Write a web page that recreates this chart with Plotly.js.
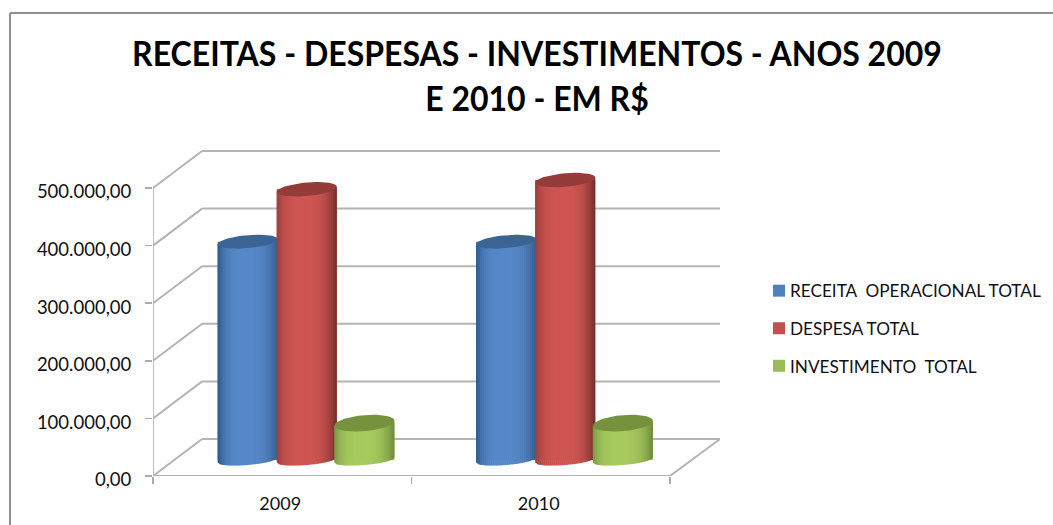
<!DOCTYPE html>
<html><head><meta charset="utf-8">
<script src="https://cdn.plot.ly/plotly-3.0.1.min.js"></script>
<style>html,body{margin:0;padding:0;background:#fff;overflow:hidden}</style>
</head><body><div id="chart" style="width:1053px;height:525px"></div>
<script>
const categories = ["2009", "2010"];
const seriesNames = ["RECEITA\u00a0 OPERACIONAL TOTAL", "DESPESA TOTAL", "INVESTIMENTO\u00a0 TOTAL"];
const receita = [379000, 379000];
const despesa = [470000, 486000];
const investimento = [64000, 64000];
const yTicks = [0, 100000, 200000, 300000, 400000, 500000];

const seriesValues = [receita, despesa, investimento];
const legendColors = ["#4f81bd", "#c0504d", "#9bbb59"];
const capColors = ["#3b6494", "#953b39", "#76923c"];
const shadeLeft = [[45, 85, 135], [150, 62, 60], [122, 150, 66]];
const shadeMid = [[86, 136, 200], [206, 85, 82], [167, 202, 94]];
const shadeRight = [[52, 92, 142], [112, 46, 44], [108, 135, 58]];

// plot box in pixels and conversion to data units
const M = {l: 153, r: 333, t: 150, b: 49};
const unitX = 1 / 258, unitY = 100000 / 57.6;
const xRange = [-0.5, 1.5 + 50 * unitX];
const yRange = [0, (525 - M.t - M.b) * unitY];
const depthX = 49 * unitX, depthY = 37 * unitY;
const offsets = [-34.5 * unitX, 24.5 * unitX, 82 * unitX];
const halfW = 30 * unitX, floorY = 16 * unitY;
const capBs = [6.5 * unitY, 6.8 * unitY, 8 * unitY];
const footB = 5 * unitY, shear = 2.5 * unitY;
const STRIPS = 30;

const traces = [];
seriesValues.forEach((vals, s) => {
  traces.push({
    type: "bar", name: seriesNames[s], x: categories, y: vals,
    base: [floorY, floorY], width: 2 * halfW, offset: offsets[s] - halfW,
    marker: {color: legendColors[s]}, legendgroup: "g" + s, showlegend: true,
    hovertemplate: "%{x}: %{customdata:,.2f}<extra>" + seriesNames[s] + "</extra>", customdata: vals
  });
});

function mix(a, b, t) { return a.map((v, i) => Math.round(v + (b[i] - v) * t)); }
function shade(s, u) {
  const p = -0.1;
  const edge = u < p ? shadeLeft[s] : shadeRight[s];
  const d = u < p ? (p - u) / (1 + p) : (u - p) / (1 - p);
  const c = mix(shadeMid[s], edge, Math.pow(d, 3.2));
  return "rgb(" + c.join(",") + ")";
}
const foot = u => floorY - footB * Math.sqrt(Math.max(0, 1 - u * u)) + shear * u;

seriesValues.forEach((vals, s) => {
  for (let k = 0; k < STRIPS; k++) {
    const u0 = -1 + 2 * k / STRIPS, u1 = Math.min(1, -1 + 2 * (k + 1.3) / STRIPS);
    const xs = [], ys = [];
    vals.forEach((v, c) => {
      const cx = c + offsets[s];
      xs.push(cx + u0 * halfW, cx + u1 * halfW, cx + u1 * halfW, cx + u0 * halfW, cx + u0 * halfW, null);
      ys.push(foot(u0), foot(u1), v + floorY + shear * u1, v + floorY + shear * u0, foot(u0), null);
    });
    traces.push({type: "scatter", mode: "lines", xaxis: "x2", x: xs, y: ys, fill: "toself",
      fillcolor: shade(s, (u0 + u1) / 2), line: {width: 0}, showlegend: false, hoverinfo: "skip"});
  }
  const cxs = [], cys = [];
  vals.forEach((v, c) => {
    const cx = c + offsets[s];
    for (let i = 0; i <= 60; i++) {
      const th = i / 60 * 2 * Math.PI;
      cxs.push(cx + halfW * Math.cos(th));
      cys.push(v + floorY + capBs[s] * Math.sin(th) + shear * Math.cos(th));
    }
    cxs.push(null); cys.push(null);
  });
  traces.push({type: "scatter", mode: "lines", xaxis: "x2", x: cxs, y: cys, fill: "toself",
    fillcolor: capColors[s], line: {width: 0}, showlegend: false, hoverinfo: "skip"});
});

const wall = "#b4b4b4";
const seg = (x0, y0, x1, y1, color, w) => ({type: "line", xref: "x2", yref: "y", x0, y0, x1, y1,
  line: {color: color || wall, width: w || 2}, layer: "below"});
const shapes = [];
yTicks.forEach(v => {
  shapes.push(seg(xRange[0] + depthX, v + depthY, xRange[1], v + depthY));
  shapes.push(seg(xRange[0], v, xRange[0] + depthX, v + depthY));
});
shapes.push(seg(1.5, 0, xRange[1], depthY));
shapes.push(seg(xRange[0], 0, 1.5, 0));
shapes.push(seg(xRange[0], 0, xRange[0], 500000, "#aaaaaa", 1.5));
const W = 1053 - M.l - M.r, H = 525 - M.t - M.b;
const frame = "#8f8f8f";
shapes.push({type: "line", xref: "paper", yref: "paper", x0: (10 - M.l) / W, x1: (1053 - M.l) / W,
  y0: (525 - 13 - M.b) / H, y1: (525 - 13 - M.b) / H, line: {color: frame, width: 2}});
shapes.push({type: "line", xref: "paper", yref: "paper", x0: (10 - M.l) / W, x1: (10 - M.l) / W,
  y0: -M.b / H, y1: (525 - 13 - M.b) / H, line: {color: frame, width: 2}});

const layout = {
  width: 1053, height: 525, autosize: false, showlegend: true,
  paper_bgcolor: "#fff", plot_bgcolor: "rgba(0,0,0,0)",
  margin: {l: M.l, r: M.r, t: M.t, b: M.b, autoexpand: false},
  separators: ",.", barmode: "overlay",
  title: {text: "RECEITAS - DESPESAS - INVESTIMENTOS - ANOS 2009<br>E 2010 - EM R$",
    font: {family: "Lato", size: 35, color: "#000", weight: 700},
    x: 537 / 1053, xanchor: "center", y: 1 - 66 / 525, yanchor: "middle"},
  xaxis: {type: "category", categoryorder: "array", categoryarray: categories, range: xRange,
    ticks: "outside", tickson: "boundaries", ticklen: 7, tickcolor: "#aaaaaa", tickwidth: 1.5,
    ticklabelstandoff: 15, ticklabelshift: -2,
    showgrid: false, zeroline: false, showline: false,
    tickfont: {family: "Lato", size: 18, color: "#111"}, fixedrange: true},
  xaxis2: {overlaying: "x", type: "linear", range: xRange, visible: false, fixedrange: true, anchor: "y"},
  yaxis: {range: yRange, tickmode: "array", tickvals: yTicks, tickformat: ",.2f",
    ticks: "outside", ticklen: 7, tickcolor: "#aaaaaa", tickwidth: 1.5,
    ticklabelstandoff: 10, ticklabelshift: 4,
    showgrid: false, zeroline: false, showline: false,
    tickfont: {family: "Lato", size: 18.5, color: "#111"}, fixedrange: true},
  legend: {x: (750 - M.l) / W, xanchor: "left", y: 1 - (273 - M.t) / H, yanchor: "top",
    traceorder: "grouped", tracegroupgap: 12.2, font: {family: "Lato", size: 17.2, color: "#111"},
    itemclick: false, itemdoubleclick: false},
  shapes
};
Plotly.newPlot("chart", traces, layout, {staticPlot: true, displayModeBar: false}).then(gd => {
  gd.querySelectorAll(".legendsymbols").forEach(g => g.setAttribute("transform", "translate(9,0)"));
  const k = 808 / 883;
  gd.querySelectorAll(".gtitle").forEach(t => t.setAttribute("transform", "translate(" + 537 * (1 - k) + ",0) scale(" + k + ",1)"));
});
</script></body></html>
